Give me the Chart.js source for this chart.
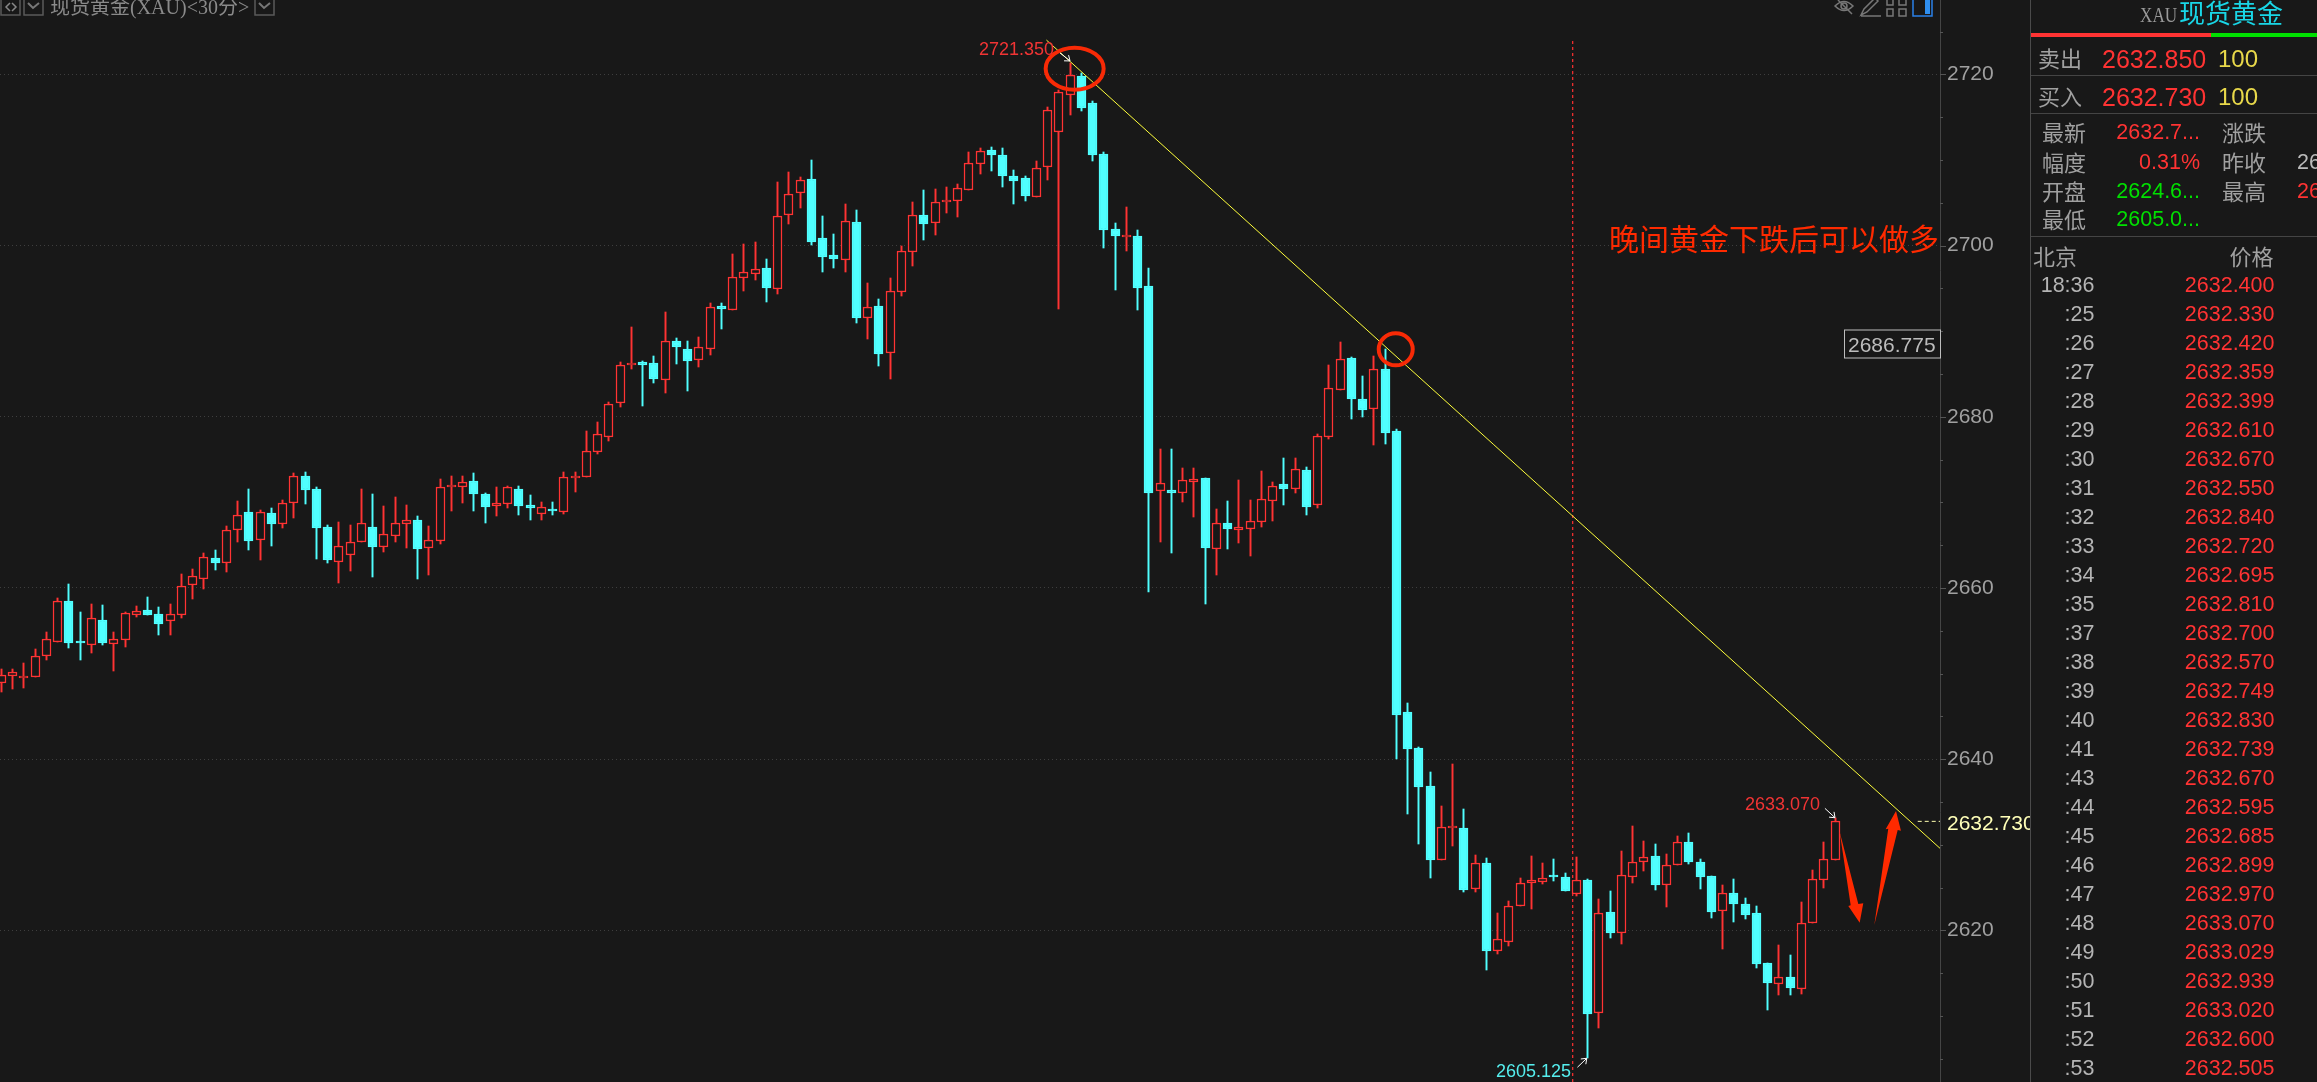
<!DOCTYPE html>
<html><head><meta charset="utf-8">
<script src="https://cdn.jsdelivr.net/npm/chart.js@4/dist/chart.umd.min.js"></script>
<style>
html,body{margin:0;padding:0;background:#181818;overflow:hidden}
#root{position:relative;width:2317px;height:1082px;overflow:hidden;background:#181818;font-family:"Liberation Sans","Noto Sans CJK SC",sans-serif}
canvas{position:absolute;left:0;top:0}
.t{position:absolute;white-space:nowrap;line-height:1}
</style></head><body><div id="root"><canvas id="c" width="2317" height="1082"></canvas></div>
<script>
const high=[2650.49,2650.49,2651.19,2652.82,2654.81,2658.78,2660.46,2657.18,2658.12,2658.0,
2654.81,2657.18,2657.88,2658.94,2657.77,2658.12,2661.62,2662.21,2664.04,2664.43,
2667.23,2670.15,2671.55,2669.06,2669.33,2670.23,2673.38,2673.54,2671.75,2667.31,
2667.7,2667.35,2671.55,2670.97,2669.57,2670.62,2669.68,2668.4,2667.23,2672.72,
2673.07,2673.07,2673.42,2671.09,2671.79,2671.9,2671.9,2670.85,2670.03,2670.03,
2673.54,2673.54,2678.33,2679.38,2681.72,2686.35,2690.44,2686.51,2687.09,2692.23,
2689.2,2688.81,2689.31,2693.25,2693.29,2699.01,2700.18,2700.41,2698.43,2707.42,
2708.59,2708.0,2709.99,2703.45,2701.35,2704.85,2704.15,2695.62,2693.71,2696.21,
2699.94,2705.08,2706.49,2706.6,2706.84,2707.19,2710.93,2711.39,2711.51,2711.39,
2708.82,2708.12,2709.87,2716.14,2718.17,2721.35,2720.19,2716.88,2710.92,2702.63,
2704.5,2701.81,2697.37,2676.23,2676.23,2674.01,2674.01,2672.84,2669.22,2670.15,
2672.61,2670.27,2673.66,2672.37,2675.18,2675.18,2674.13,2677.98,2686.04,2688.73,
2686.98,2684.76,2687.09,2687.91,2678.57,2646.55,2641.41,2638.49,2634.52,2639.43,
2634.17,2628.8,2628.45,2622.02,2623.42,2626.11,2628.68,2627.86,2628.33,2626.69,
2628.56,2625.99,2623.66,2624.59,2629.26,2632.18,2630.43,2630.08,2628.91,2631.02,
2631.37,2628.33,2626.34,2625.29,2625.99,2623.77,2622.84,2616.18,2618.28,2617.11,
2623.31,2627.04,2630.32,2633.07];
const low=[2647.84,2648.23,2648.35,2649.63,2651.58,2653.72,2652.98,2651.58,2652.39,2653.33,
2650.33,2653.1,2656.6,2656.83,2654.5,2654.5,2656.48,2658.7,2659.87,2662.09,
2661.86,2665.36,2664.43,2663.26,2664.9,2667.0,2668.17,2669.8,2663.38,2662.91,
2660.61,2661.97,2665.4,2661.27,2664.19,2665.36,2664.66,2661.04,2661.51,2665.13,
2668.98,2669.92,2668.98,2667.58,2668.4,2669.33,2668.52,2667.93,2667.93,2668.52,
2668.63,2671.2,2672.99,2675.64,2677.2,2681.14,2685.58,2681.29,2683.94,2682.77,
2686.16,2683.0,2685.81,2687.21,2690.25,2692.51,2694.69,2695.97,2693.4,2694.34,
2702.51,2704.38,2700.06,2696.91,2697.37,2696.91,2690.95,2689.08,2685.93,2684.41,
2694.14,2697.61,2700.65,2701.23,2703.8,2703.33,2706.53,2708.36,2708.71,2706.84,
2704.85,2705.2,2705.71,2707.65,2692.58,2715.25,2715.71,2709.87,2699.71,2694.8,
2699.36,2692.46,2659.52,2665.37,2664.08,2670.04,2668.29,2658.12,2661.51,2664.55,
2665.25,2663.73,2667.12,2667.82,2669.69,2671.09,2668.52,2669.34,2677.4,2683.16,
2679.73,2679.97,2676.7,2676.81,2640.01,2633.59,2630.08,2626.11,2628.25,2629.85,
2624.47,2624.47,2615.36,2617.23,2618.17,2622.88,2622.49,2625.41,2625.76,2624.59,
2624.01,2605.13,2608.59,2619.1,2618.4,2625.53,2626.93,2624.71,2622.72,2627.67,
2627.75,2624.83,2621.44,2617.82,2620.97,2621.32,2615.6,2610.69,2612.44,2612.44,
2612.56,2620.89,2624.94,2628.25];
const open=[2648.93,2649.75,2649.51,2649.63,2652.08,2653.72,2658.47,2653.8,2653.37,2656.25,
2653.48,2653.95,2656.87,2657.42,2656.95,2656.17,2656.87,2660.38,2661.08,2663.49,
2662.95,2666.8,2668.87,2665.63,2668.75,2667.5,2669.96,2673.07,2671.55,2667.11,
2663.06,2663.88,2665.4,2667.11,2664.82,2666.1,2667.5,2667.93,2664.7,2665.52,
2671.83,2671.83,2672.49,2670.97,2669.61,2669.84,2671.55,2669.68,2668.67,2669.22,
2668.9,2672.88,2672.99,2675.91,2677.59,2681.64,2686.08,2686.39,2686.28,2684.33,
2688.85,2687.91,2686.67,2687.95,2692.94,2692.51,2696.25,2696.71,2697.37,2694.96,
2703.6,2706.17,2707.77,2700.88,2698.89,2698.35,2702.75,2691.57,2692.94,2687.48,
2694.61,2699.28,2703.57,2702.67,2705.12,2705.24,2706.53,2709.56,2711.16,2710.57,
2708.12,2707.89,2705.71,2709.21,2713.3,2717.58,2719.8,2716.65,2710.69,2701.93,
2701.0,2701.11,2695.27,2671.36,2671.44,2671.13,2672.41,2672.84,2664.59,2667.59,
2666.81,2666.92,2667.74,2670.19,2672.14,2671.6,2673.78,2669.73,2677.67,2683.16,
2686.86,2682.07,2680.94,2685.58,2678.33,2645.5,2641.3,2636.86,2628.25,2631.99,
2631.95,2624.86,2627.86,2617.62,2618.67,2622.88,2625.56,2625.68,2626.3,2626.23,
2624.28,2625.88,2610.38,2622.14,2619.72,2626.27,2628.02,2628.68,2625.33,2627.67,
2630.32,2627.98,2626.34,2622.29,2624.36,2623.07,2622.02,2616.18,2613.77,2614.54,
2613.18,2620.89,2625.84,2628.25];
const close=[2649.79,2650.14,2649.55,2652.0,2653.99,2658.43,2653.56,2653.56,2656.45,2653.56,
2653.99,2657.03,2657.26,2656.83,2655.78,2656.91,2660.18,2661.35,2663.57,2662.91,
2666.72,2668.48,2665.48,2668.83,2667.46,2669.88,2673.03,2671.44,2667.0,2663.26,
2664.86,2665.32,2667.54,2664.78,2666.26,2667.54,2667.89,2664.54,2665.56,2671.75,
2671.98,2672.33,2670.97,2669.45,2669.88,2671.75,2669.57,2669.33,2669.41,2668.98,
2672.92,2673.03,2675.95,2677.94,2681.45,2686.0,2686.24,2686.04,2684.41,2688.81,
2688.15,2686.51,2688.11,2692.78,2692.58,2696.28,2696.87,2697.22,2695.04,2703.41,
2705.98,2707.62,2700.41,2698.66,2698.43,2702.83,2691.53,2692.78,2687.33,2694.65,
2699.32,2703.53,2702.51,2705.05,2705.32,2706.68,2709.6,2711.0,2710.57,2708.12,
2707.54,2705.79,2709.02,2715.79,2717.89,2719.88,2716.06,2710.57,2701.81,2701.11,
2701.11,2695.03,2671.09,2672.22,2671.09,2672.57,2672.69,2664.66,2667.55,2666.88,
2667.08,2667.78,2670.35,2671.87,2671.56,2673.85,2669.45,2677.71,2683.32,2686.7,
2682.07,2680.79,2685.54,2678.1,2645.15,2641.18,2636.74,2628.21,2632.03,2632.03,
2624.71,2627.82,2617.58,2618.94,2622.8,2625.49,2625.84,2626.07,2626.27,2624.59,
2625.84,2610.22,2621.98,2619.68,2626.42,2627.94,2628.52,2625.29,2627.59,2630.28,
2627.98,2626.23,2622.14,2624.32,2623.07,2621.79,2616.06,2613.84,2614.5,2613.26,
2620.81,2625.95,2628.29,2632.73];
const trendLine=[[92.9,2724.0],[172.33,2629.58]];
const markerLine=[[139.68,2723.89],[139.68,2602.28]];
const lastPriceLine=[[170.35,2632.73],[172.33,2632.73]];
const priceNotes=[["2721.350",93.57,2722.84,"#f03434"],["2633.070",161.66,2634.6,"#f03434"],["2605.125",139.53,2603.48,"#55eeee"]];
const noteArrows=[[94.11,2722.49,95.0,2721.56],[162.1,2634.25,163.0,2633.15],[140.1,2604.0,140.93,2605.05]];
const rings=[[95.41,2720.65,29,21],[123.95,2687.87,17,16]];
const arrowDown=[[163.41,2631.52],[165.07,2623.07],[165.51,2623.15],[165.19,2620.89],[164.18,2622.84],[164.39,2622.92]];
const arrowUp=[[166.49,2620.62],[167.73,2631.87],[167.5,2631.8],[168.42,2633.94],[168.86,2631.64],[168.57,2631.72]];
const noteText=["晚间黄金下跌后可以做多",172.24,2700.82];
const tickTimes=["18:36",":25",":26",":27",":28",":29",":30",":31",":32",":33",":34",":35",":37",":38",":39",":40",":41",":43",":44",":45",":46",":47",":48",":49",":50",":51",":52",":53"];
const tickPrices=["2632.400","2632.330","2632.420","2632.359","2632.399","2632.610","2632.670","2632.550","2632.840","2632.720","2632.695","2632.810","2632.700","2632.570","2632.749","2632.830","2632.739","2632.670","2632.595","2632.685","2632.899","2632.970","2633.070","2633.029","2632.939","2633.020","2632.600","2632.505"];

const RED="#ff3333",CY="#50ffff",BG="#181818";
const isUp=i=>close[i]>=open[i];
const pts=a=>a.map(p=>({x:p[0],y:p[1]}));
const sans='"Liberation Sans","Noto Sans CJK SC",sans-serif';

const overlay={id:"overlay",
 beforeDatasetsDraw(ch){
  ch.getSortedVisibleDatasetMetas().forEach(m=>{ if(m.type!=="bar")return;
   m.data.forEach(el=>{el.x=Math.floor(el.x)+0.5;el.y=Math.round(el.y);el.base=Math.round(el.base);});});
 },
 afterDraw(ch){
  const c=ch.ctx,X=ch.scales.x,Y=ch.scales.y,px=v=>X.getPixelForValue(v),py=v=>Y.getPixelForValue(v);
  const right=ch.chartArea.right;
  c.save();
  Y.ticks.forEach(t=>{const y=Math.round(py(t.value))+0.5;c.strokeStyle="#555";c.lineWidth=1;c.beginPath();c.moveTo(right,y);c.lineTo(right+(t.value%20===0?6:3),y);c.stroke();});
  c.strokeStyle="#f82a06";c.lineWidth=4;
  rings.forEach(r=>{c.beginPath();c.ellipse(px(r[0]),py(r[1]),r[2],r[3],0,0,Math.PI*2);c.stroke();});
  c.fillStyle="#ff2a00";
  [arrowDown,arrowUp].forEach(a=>{c.beginPath();a.forEach((p,i)=>i?c.lineTo(px(p[0]),py(p[1])):c.moveTo(px(p[0]),py(p[1])));c.closePath();c.fill();});
  c.textBaseline="middle";c.textAlign="right";
  c.font='30px "Noto Sans CJK SC"';c.fillStyle="#ff2a00";c.fillText(noteText[0],px(noteText[1]),py(noteText[2]));
  c.font='18px '+sans;
  priceNotes.forEach(n=>{c.fillStyle=n[3];c.fillText(n[0],px(n[1]),py(n[2]));});
  c.strokeStyle="#fff";c.lineWidth=1;
  noteArrows.forEach(a=>{const x0=px(a[0]),y0=py(a[1]),x1=px(a[2]),y1=py(a[3]),ang=Math.atan2(y1-y0,x1-x0);
   c.beginPath();c.moveTo(x0,y0);c.lineTo(x1,y1);
   c.moveTo(x1-6*Math.cos(ang-0.65),y1-6*Math.sin(ang-0.65));c.lineTo(x1,y1);c.lineTo(x1-6*Math.cos(ang+0.65),y1-6*Math.sin(ang+0.65));c.stroke();});
  c.restore();
 }};

new Chart(document.getElementById("c"),{
 type:"bar",
 data:{datasets:[
  {type:"line",order:0,data:pts(trendLine),borderColor:"#ffff3c",borderWidth:1,pointRadius:0,fill:false},
  {type:"line",order:0,data:pts(lastPriceLine),borderColor:"#ffffb0",borderWidth:1,borderDash:[4,3],pointRadius:0,fill:false},
  {type:"line",order:3,data:pts(markerLine),borderColor:"#ff3030",borderWidth:1.2,borderDash:[3,3],pointRadius:0,fill:false},
  {order:1,grouped:false,barThickness:9,minBarLength:2,borderSkipped:false,
   data:open.map((o,i)=>({x:i,y:[o,close[i]]})),
   backgroundColor:c=>isUp(c.dataIndex)?BG:CY,
   borderColor:c=>isUp(c.dataIndex)?RED:CY,
   borderWidth:1.5},
  {order:2,grouped:false,barThickness:1.3,borderSkipped:false,
   data:low.map((l,i)=>({x:i,y:[l,high[i]]})),
   backgroundColor:c=>isUp(c.dataIndex)?RED:CY,borderWidth:0}
 ]},
 options:{responsive:false,animation:false,devicePixelRatio:1,
  layout:{padding:0,autoPadding:false},
  plugins:{legend:{display:false},tooltip:{enabled:false}},
  elements:{line:{tension:0}},
  scales:{
   x:{type:"linear",display:false,min:-0.1156,max:172.33,offset:false},
   y:{position:"right",min:2602.28,max:2728.68,
    afterFit(s){s.width=377;s.paddingTop=0;s.paddingBottom=0;},
    border:{color:"#444",dash:[1,3]},
    grid:{drawTicks:false,color:c=>c.tick&&c.tick.value%20===0?"#3e3e3e":"transparent"},
    ticks:{stepSize:5,includeBounds:false,padding:7,autoSkip:false,color:"#a0a0a0",font:{family:sans,size:21},
      align:"center",crossAlign:"near",callback:v=>v%20===0?String(v):""}
   }
  }
 },
 plugins:[overlay]
});

const root=document.getElementById("root");
function box(x,y,w,h,col){const d=document.createElement("div");d.style.cssText=`position:absolute;left:${x}px;top:${y}px;width:${w}px;height:${h}px;background:${col}`;root.appendChild(d);return d;}
function txt(s,x,cy,size,col,opt={}){const d=document.createElement("div");d.className="t";d.textContent=s;
 d.style.cssText+=`top:${cy}px;font-size:${size}px;color:${col};transform:translateY(-50%);`+(opt.right?`right:${2317-x}px;`:`left:${x}px;`)+(opt.css||"");
 (opt.parent||root).appendChild(d);return d;}

box(2030,0,1,1082,"#4a4a4a");
box(2031,33,180,4,"#ff3333");box(2211,33,106,4,"#00e000");
box(2031,75,286,1,"#444");box(2031,113,286,1,"#444");box(2031,236,286,1,"#444");
txt("XAU",2140,15,22,"#999",{css:'font-family:"Liberation Serif";transform:translateY(-50%) scaleX(.78);transform-origin:left center;'});
txt("现货黄金",2179,14,26,"#19d6e6");
const cj='font-family:"Noto Sans CJK SC";';
txt("卖出",2038,57,22,"#a0a0a0",{css:cj});txt("2632.850",2102,58.5,25,RED);txt("100",2218,58.5,24,"#e8d84a");
txt("买入",2038,95,22,"#a0a0a0",{css:cj});txt("2632.730",2102,96.5,25,RED);txt("100",2218,96.5,24,"#e8d84a");
[["最新","2632.7...",RED,"涨跌",null,null,133],["幅度","0.31%",RED,"昨收","2624.6...","#bbb",162.5],["开盘","2624.6...","#00e000","最高","2648.8...",RED,191.5],["最低","2605.0...","#00e000",null,null,null,220]].forEach(r=>{
 txt(r[0],2042,r[6]-2,22,"#a0a0a0",{css:cj});
 txt(r[1],2200,r[6],21.5,r[2],{right:true});
 if(r[3])txt(r[3],2222,r[6]-2,22,"#a0a0a0",{css:cj});
 if(r[4])txt(r[4],2297,r[6],21.5,r[5]);
});
txt("北京",2033,255,22,"#a0a0a0",{css:cj});
txt("价格",2273.5,255,22,"#a0a0a0",{right:true,css:cj});
tickTimes.forEach((t,i)=>{const y=286+i*29;
 txt(t,2094.5,y,21.5,"#b4b4b4",{right:true});
 txt(tickPrices[i],2274.5,y,21.5,RED,{right:true});});

txt("2686.775",1844,343.5,21,"#bdbdbd",{css:"border:1px solid #bdbdbd;padding:3px 3px;width:89px;box-sizing:content-box;"});
const clipBox=document.createElement("div");clipBox.style.cssText="position:absolute;left:1947px;top:805px;width:83px;height:34px;overflow:hidden;";root.appendChild(clipBox);
txt("2632.730",0,17,21,"#ffffb8",{parent:clipBox});

txt("现货黄金(XAU)<30分>",50,7,20,"#8a8a8a",{css:'font-family:"Liberation Serif","Noto Sans CJK SC";'});
const svg=document.createElementNS("http://www.w3.org/2000/svg","svg");
svg.setAttribute("width","2317");svg.setAttribute("height","40");svg.style.cssText="position:absolute;left:0;top:0;";
svg.innerHTML=`<g fill="none" stroke="#5a5a5a" stroke-width="1.5">
<rect x="1" y="-3" width="19" height="18"/><path d="M10 3l-4 4 4 4M12 3l4 4-4 4" stroke="#888"/>
<rect x="24" y="-3" width="19" height="18"/><path d="M28 3l5 5 6-5" stroke="#777" stroke-width="2"/>
<rect x="255" y="-3" width="19" height="18"/><path d="M259 3l5 5 6-5" stroke="#777" stroke-width="2"/>
<path d="M1835 6q9-9 18 0q-9 9-18 0z M1838 0l14 14" stroke="#777"/><circle cx="1844" cy="6" r="3" stroke="#777"/>
<path d="M1861 15l3-6 11-11 3 3-11 11z M1861 16h20" stroke="#777"/>
<path d="M1887 -3h6v8h-6z M1899 -3h7v8h-7z M1887 9h6v7h-6z M1899 9h7v7h-7z" stroke="#777"/>
<rect x="1913" y="-3" width="19" height="19" stroke="#2a80e8"/></g><rect x="1925" y="-3" width="5" height="17" fill="#2f8ff0"/>`;
root.appendChild(svg);
</script></body></html>
